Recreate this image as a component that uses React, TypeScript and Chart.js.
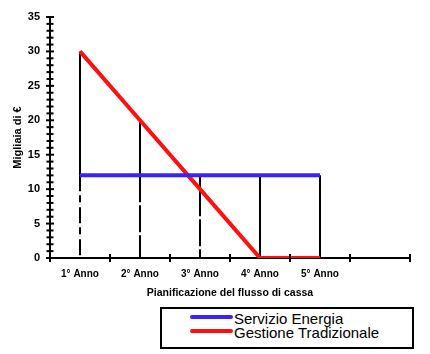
import React, { useEffect, useRef } from "react";
import { Chart, registerables } from "chart.js";

Chart.register(...registerables);

const categories = ["1° Anno", "2° Anno", "3° Anno", "4° Anno", "5° Anno", ""];
const servizioEnergia = [12, 12, 12, 12, 12];
const gestioneTradizionale = [30, 20, 10, 0, 0];
const yTickValues = [0, 5, 10, 15, 20, 25, 30, 35];

const FONT = "'Liberation Sans', Arial, sans-serif";
const BLUE = "#3a22ff";
const RED = "#ff1010";

const customPlugin = {
  id: "custom",
  beforeDatasetsDraw(chart: any) {
    const { ctx, scales } = chart;
    const x = scales.x;
    const y = scales.y;
    ctx.save();
    ctx.strokeStyle = "#000";
    ctx.lineWidth = 2;
    const n = Math.min(servizioEnergia.length, gestioneTradizionale.length);
    for (let i = 0; i < n; i++) {
      const a = servizioEnergia[i];
      const b = gestioneTradizionale[i];
      const hi = Math.max(a, b);
      const lo = Math.min(a, b);
      const px = x.getPixelForValue(i);
      ctx.setLineDash([]);
      ctx.beginPath();
      ctx.moveTo(px, y.getPixelForValue(hi));
      ctx.lineTo(px, y.getPixelForValue(lo));
      ctx.stroke();
      if (lo > 0) {
        ctx.setLineDash(i === 0 ? [16, 4, 7, 5] : [27, 3]);
        ctx.beginPath();
        ctx.moveTo(px, y.getPixelForValue(lo));
        ctx.lineTo(px, y.getPixelForValue(0));
        ctx.stroke();
      }
    }
    ctx.restore();
  },
  afterDraw(chart: any) {
    const { ctx, scales, chartArea } = chart;
    const y = scales.y;
    ctx.save();
    ctx.strokeStyle = "#000";
    ctx.lineWidth = 2;
    for (let v = y.min; v <= y.max; v++) {
      const py = y.getPixelForValue(v);
      const len = v % 5 === 0 ? 4 : 3.5;
      ctx.beginPath();
      ctx.moveTo(chartArea.left - len, py);
      ctx.lineTo(chartArea.left + len, py);
      ctx.stroke();
    }
    const count = categories.length;
    const w = (chartArea.right - chartArea.left) / count;
    for (let i = 0; i <= count; i++) {
      const px = chartArea.left + i * w;
      ctx.beginPath();
      ctx.moveTo(px, chartArea.bottom - 4);
      ctx.lineTo(px, chartArea.bottom + 4);
      ctx.stroke();
    }
    ctx.fillStyle = "#000";
    ctx.font = `bold 10.5px ${FONT}`;
    ctx.textAlign = "center";
    ctx.textBaseline = "middle";
    ctx.fillText("Pianificazione del flusso di cassa", (chartArea.left + chartArea.right) / 2, 293);
    ctx.save();
    ctx.translate(18, (chartArea.top + chartArea.bottom) / 2);
    ctx.rotate(-Math.PI / 2);
    ctx.font = `bold 11px ${FONT}`;
    ctx.fillText("Migliaia di €", 0, 0);
    ctx.restore();
    ctx.restore();
  },
};

export default function App() {
  const canvasRef = useRef<HTMLCanvasElement | null>(null);

  useEffect(() => {
    if (!canvasRef.current) return;
    const chart = new Chart(canvasRef.current, {
      type: "line",
      data: {
        labels: categories,
        datasets: [
          {
            label: "Servizio Energia",
            data: servizioEnergia,
            borderColor: BLUE,
            borderWidth: 4,
            pointRadius: 0,
            tension: 0,
          },
          {
            label: "Gestione Tradizionale",
            data: gestioneTradizionale,
            borderColor: RED,
            borderWidth: 4,
            pointRadius: 0,
            tension: 0,
          },
        ],
      },
      options: {
        responsive: false,
        animation: false,
        layout: { padding: { top: 17, right: 20, left: 0, bottom: 0 } },
        plugins: {
          legend: { display: false },
          tooltip: { enabled: false },
        },
        scales: {
          x: {
            type: "category",
            offset: true,
            grid: { display: false, drawTicks: false, offset: true },
            border: { display: true, color: "#000", width: 2 },
            ticks: {
              color: "#000",
              font: { family: FONT, size: 10, weight: "bold" },
              padding: 10,
              autoSkip: false,
              maxRotation: 0,
            },
            afterFit: (s: any) => {
              s.height = 96;
            },
          },
          y: {
            min: 0,
            max: 35,
            grid: { display: false, drawTicks: false },
            border: { display: true, color: "#000", width: 2 },
            ticks: {
              stepSize: 1,
              autoSkip: false,
              color: "#000",
              font: { family: FONT, size: 11, weight: "bold" },
              padding: 10,
              callback: (v: any) => (yTickValues.includes(Number(v)) ? String(v) : ""),
            },
            afterFit: (s: any) => {
              s.width = 50;
            },
          },
        },
      },
      plugins: [customPlugin],
    } as any);
    return () => chart.destroy();
  }, []);

  const legendItems = [
    { label: "Servizio Energia", color: BLUE, swatchTop: 6, textTop: 1.5 },
    { label: "Gestione Tradizionale", color: RED, swatchTop: 20, textTop: 15.5 },
  ];

  return (
    <div
      style={{
        position: "fixed",
        left: 0,
        top: 0,
        width: 430,
        height: 354,
        background: "#fff",
      }}
    >
      <canvas ref={canvasRef} width={430} height={354} style={{ display: "block" }} />
      <div
        style={{
          position: "absolute",
          left: 160,
          top: 307,
          width: 254,
          height: 42,
          boxSizing: "border-box",
          border: "2px solid #000",
          background: "#fff",
        }}
      >
        {legendItems.map((it) => (
          <React.Fragment key={it.label}>
            <div
              style={{
                position: "absolute",
                left: 28,
                top: it.swatchTop,
                width: 43,
                height: 4,
                borderRadius: 2,
                background: it.color,
              }}
            />
            <div
              style={{
                position: "absolute",
                left: 72,
                top: it.textTop,
                fontFamily: FONT,
                fontSize: 15,
                lineHeight: "15px",
                color: "#000",
                whiteSpace: "nowrap",
              }}
            >
              {it.label}
            </div>
          </React.Fragment>
        ))}
      </div>
    </div>
  );
}
